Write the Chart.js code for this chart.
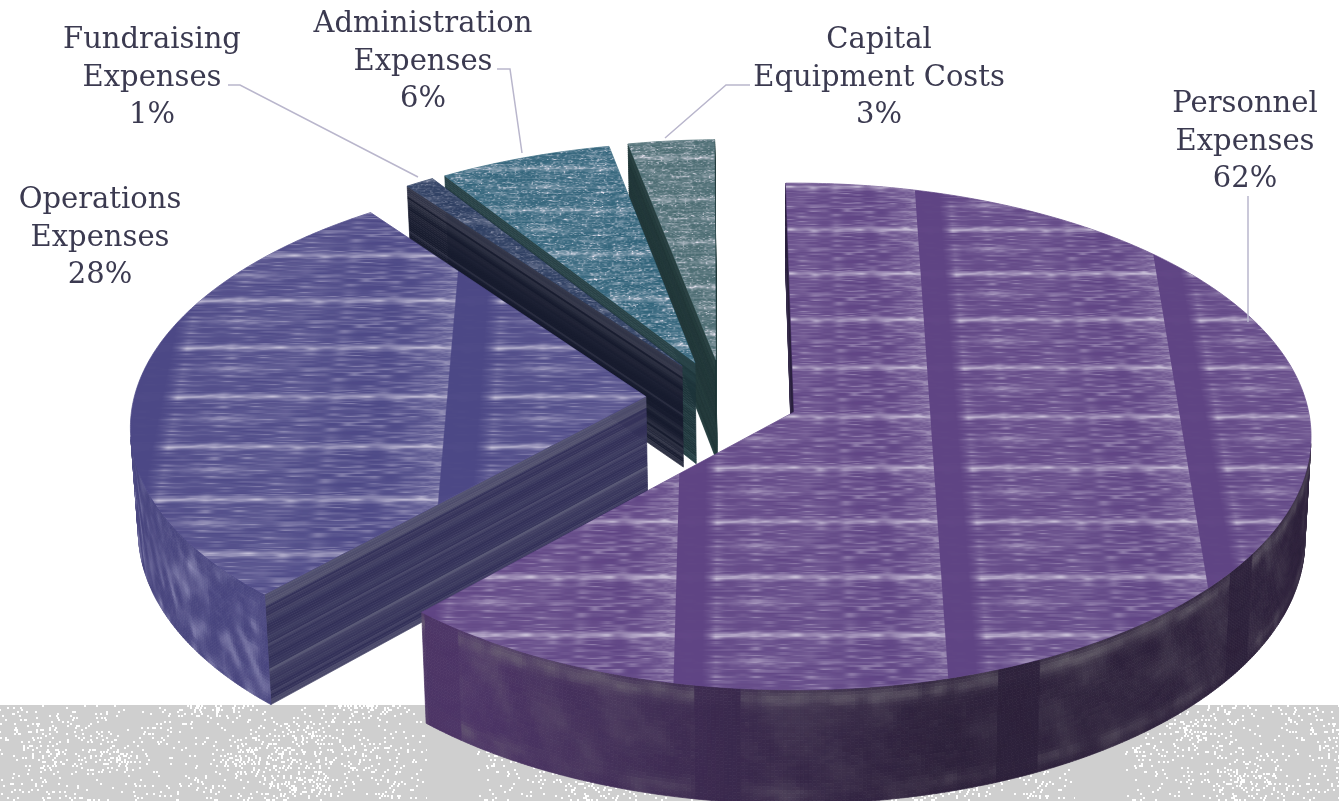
<!DOCTYPE html>
<html>
<head>
<meta charset="utf-8">
<title>Expense breakdown</title>
<style>
  html, body { margin: 0; padding: 0; background: #fff; overflow: hidden; }
  canvas { display: block; }
</style>
<script src="https://cdn.jsdelivr.net/npm/chart.js@4"></script>
</head>
<body>
<canvas id="pie" width="1339" height="801"></canvas>
<script>
// Expense shares, clockwise from twelve o'clock
const categories = ['Personnel\nExpenses', 'Operations\nExpenses', 'Fundraising\nExpenses', 'Administration\nExpenses', 'Capital\nEquipment Costs'];
const shares = [62, 28, 1, 6, 3];

// How far each wedge is pulled out of the pie, in radius units on the pie plane
const explodeU = [0, -0.2895, -0.2215, -0.196, -0.155];
const explodeV = [0, 0.062, 0.187, 0.200, 0.212];

// Slice finishes
const topColors = ['#5f4484', '#4c4886', '#2c3d60', '#2d6178', '#46686e'];
const seamed = [true, true, false, false, false];
const texOriginX = [753, 670, 794, 794, 794];
const texScale = [0.965, 0.753, 1, 1, 1];
const texPhaseU = [-0.344, 0.4356, 0.1, 0.2, 0.3];
const texPhaseV = [0, 0.02, 0.05, 0.09, 0.13];
const clothStrength = [1, 1, 0.55, 1, 1];
const faceDark = [[40, 30, 60], [50, 48, 88], [22, 26, 45], [29, 52, 58], [28, 50, 52]];
const faceLight = [[70, 60, 90], [104, 104, 128], [76, 78, 96], [50, 78, 82], [44, 70, 70]];
const wallFar = [[44, 32, 58], [72, 69, 126], [30, 34, 56], [30, 54, 60], [28, 50, 52]];
const wallNear = [[76, 52, 102], [72, 69, 126], [30, 34, 56], [30, 54, 60], [28, 50, 52]];
const wallLight = [[122, 118, 124], [170, 168, 204], [70, 72, 90], [52, 82, 86], [46, 74, 74]];

// Label placement: centre x and first baseline y
const labelX = [1245, 100, 152, 423, 879];
const labelY = [112, 208, 48, 32, 48];
const lineGap = 37.6;
const labelColor = '#3b3a50';

// Leader lines
const leaders = [
  [[1248, 196], [1248, 322]],
  null,
  [[228, 85], [240, 85], [418, 177]],
  [[497, 69], [510, 69], [522, 153]],
  [[750, 85], [726, 85], [665, 138]]
];

// Camera model for the tilted pie
const cam = { cx: 794, cy: 412, A: 251, B: 514.6, k: 0.0967, depth: 103, taper: 0.012 };

function project(U, V, z) {
  const s = 1 / (1 + cam.k * V);
  return [cam.cx + cam.B * U * s * (1 - cam.taper * z), cam.cy - cam.A * V * s + cam.depth * z * s];
}

// Small deterministic value noise for the surface finish
function hash(i, j, seed) {
  let h = Math.imul(i, 0x27d4eb2d) ^ Math.imul(j, 0x165667b1) ^ Math.imul(seed, 0x9e3779b1);
  h = Math.imul(h ^ (h >>> 15), 0x85ebca6b);
  h = Math.imul(h ^ (h >>> 13), 0xc2b2ae35);
  h = h ^ (h >>> 16);
  return (h >>> 0) / 4294967295;
}
function vnoise(x, y, seed) {
  const xi = Math.floor(x), yi = Math.floor(y);
  let fx = x - xi, fy = y - yi;
  fx = fx * fx * (3 - 2 * fx); fy = fy * fy * (3 - 2 * fy);
  const a = hash(xi, yi, seed), b = hash(xi + 1, yi, seed), c = hash(xi, yi + 1, seed), d = hash(xi + 1, yi + 1, seed);
  return a + (b - a) * fx + (c - a) * fy + (a - b - c + d) * fx * fy;
}

const TEX_U = 516, TEX_V = 250, TILE_W = 241, TILE_H = 50, SPAN = 3.6;

// Builds a wide strip of a repeating white-alpha cloth texture
function buildCloth(withSeam) {
  const tile = document.createElement('canvas');
  tile.width = TILE_W; tile.height = TILE_H;
  const t = tile.getContext('2d');
  const img = t.createImageData(TILE_W, TILE_H);
  for (let y = 0; y < TILE_H; y++) {
    for (let x = 0; x < TILE_W; x++) {
      const dy = Math.min(Math.abs(y - 4), TILE_H - Math.abs(y - 4));
      // faint broad mottling and fine horizontal grain
      let a = 0.07 * vnoise(x / 45, y / 14, 1);
      const grain = vnoise(x / 12, y / 1.5, 3);
      a += 0.3 * grain * grain * grain + 0.06 * grain;
      // the bright woven line, broken into dashes, with a knot
      const dash = 0.45 + 0.55 * vnoise(x / 9, y / 2, 5);
      a += (withSeam ? 0.55 : 0.45) * Math.exp(-(dy * dy) / 6) * dash;
      a += 0.14 * Math.exp(-(dy * dy) / 14) * Math.exp(-Math.pow((x - 70) / 4, 2));
      // fuzzy patch and thin line halfway between woven lines
      const my = y - 27;
      a += 0.3 * Math.exp(-(my * my) / 20) * Math.exp(-Math.pow((x - 72) / 28, 2)) * (0.4 + 0.6 * vnoise(x / 5, y / 1.5, 7));
      a += 0.1 * Math.exp(-(my * my) / 3) * vnoise(x / 14, y, 8);
      if (withSeam) {
        // lighter column before the seam, plain dark band after it
        a += 0.16 * Math.exp(-Math.pow((x - TILE_W) / 15, 2)) * (0.3 + vnoise(x / 3, y, 6));
        if (x < 24) a *= 0.04;
        else if (x < 36) a *= 0.04 + 0.96 * (x - 24) / 12;
      } else {
        a += 0.6 * Math.pow(vnoise(x / 1.8, y / 1.1, 9), 4);
        a *= 0.55 + 0.9 * vnoise(x / 3, y / 1.3, 10);
      }
      const p = (y * TILE_W + x) * 4;
      img.data[p] = 232; img.data[p + 1] = 228; img.data[p + 2] = 240;
      img.data[p + 3] = Math.min(255, a * 255);
    }
  }
  t.putImageData(img, 0, 0);
  // Repeat the tile, stack it three times and soften, keeping the middle row band
  const sharp = document.createElement('canvas');
  sharp.width = Math.ceil(SPAN * TEX_U * 1.05) + TILE_W + 4; sharp.height = TILE_H * 3;
  const st = sharp.getContext('2d');
  for (let y = 0; y < 3; y++) {
    for (let x = 0; x < sharp.width; x += TILE_W) st.drawImage(tile, x, y * TILE_H);
  }
  const strip = document.createElement('canvas');
  strip.width = sharp.width; strip.height = TILE_H;
  const out = strip.getContext('2d');
  out.filter = 'blur(0.6px)';
  out.drawImage(sharp, 0, -TILE_H);
  return strip;
}
const clothSeamed = buildCloth(true);
const clothPlain = buildCloth(false);

function mod(a, b) { return ((a % b) + b) % b; }
function lerp3(c0, c1, t) {
  t = Math.max(0, Math.min(1, t));
  return [c0[0] + (c1[0] - c0[0]) * t, c0[1] + (c1[1] - c0[1]) * t, c0[2] + (c1[2] - c0[2]) * t];
}
function css(c) { return 'rgb(' + Math.round(c[0]) + ',' + Math.round(c[1]) + ',' + Math.round(c[2]) + ')'; }
function shoelace(q) {
  let s = 0;
  for (let i = 0; i < q.length; i++) {
    const a = q[i], b = q[(i + 1) % q.length];
    s += a[0] * b[1] - b[0] * a[1];
  }
  return s;
}
function fillPoly(ctx, q, color) {
  ctx.beginPath();
  ctx.moveTo(q[0][0], q[0][1]);
  for (let i = 1; i < q.length; i++) ctx.lineTo(q[i][0], q[i][1]);
  ctx.closePath();
  ctx.fillStyle = color; ctx.strokeStyle = color; ctx.lineWidth = 0.7;
  ctx.fill(); ctx.stroke();
}

// Flat cut face: stripes run along the radius
function paintFace(ctx, i, a, ou, ov) {
  const rimU = ou + Math.cos(a), rimV = ov - Math.sin(a);
  const strips = 44;
  for (let n = 0; n < strips; n++) {
    const z0 = n / strips, z1 = (n + 1) / strips, zm = (z0 + z1) / 2;
    let light = Math.pow(vnoise(n * 0.8, 0.5, 11 + i), 3) * 0.8;
    if (zm < 0.12) light = Math.max(light, 0.4 + 0.3 * vnoise(n * 1.3, 1.5, 14));
    if (zm > 0.95) light = Math.max(light, 0.45);
    fillPoly(ctx, [project(ou, ov, z0), project(rimU, rimV, z0), project(rimU, rimV, z1), project(ou, ov, z1)],
      css(lerp3(faceDark[i], faceLight[i], light)));
  }
}

// Curved outer wall: mottled finish, split into small cells
function paintWall(ctx, i, a0, a1, ou, ov) {
  const step = Math.PI / 420, rows = 34;
  const P = (a, z) => project(ou + Math.cos(a), ov - Math.sin(a), z);
  for (let a = a0; a < a1; a += step) {
    const b = Math.min(a + step * 1.02, a1);
    if (shoelace([P(a, 0), P(b, 0), P(b, 1), P(a, 1)]) >= 0) continue;
    const deg = (a + Math.PI / 2) * 180 / Math.PI;
    const base = lerp3(wallFar[i], wallNear[i], (deg - 165) / 50);
    for (let r = 0; r < rows; r++) {
      const z0 = r / rows, z1 = (r + 1) / rows, zm = (z0 + z1) / 2;
      let t;
      if (i === 0) {
        const ph = mod(deg - 127, 31.5) / 31.5;
        t = 0.2 * Math.pow(vnoise(deg / 2.2 + zm * 2, zm * 4, 21), 2) + 0.08 * Math.pow(vnoise(deg * 1.3, zm * 30, 22), 2);
        const patch = vnoise(deg / 3.5, zm * 2, 25);
        const stripe = Math.exp(-Math.pow((zm - 0.08) / 0.07, 2)) + 0.8 * patch * Math.exp(-Math.pow((zm - 0.9) / 0.06, 2));
        t += stripe * (0.12 + 0.42 * vnoise(deg / 1.3, zm * 8, 23));
        // plain band after each tile seam
        if (ph > 0.85) t *= 0.1;
      } else {
        t = 0.55 * Math.pow(vnoise(deg * 0.55 + zm * 5, zm * 5 - deg * 0.28, 31), 3) + 0.12 * Math.pow(vnoise(deg * 1.6, zm * 22, 32), 3);
      }
      fillPoly(ctx, [P(a, z0), P(b, z0), P(b, z1), P(a, z1)], css(lerp3(base, wallLight[i], t)));
    }
  }
}

// Upper surface: fills the wedge, then lays the cloth line by line in perspective
function paintTop(ctx, i, a0, a1, ou, ov) {
  const poly = [project(ou, ov, 0)];
  const n = Math.max(6, Math.ceil((a1 - a0) / (Math.PI / 360)));
  for (let j = 0; j <= n; j++) {
    const a = a0 + (a1 - a0) * j / n;
    poly.push(project(ou + Math.cos(a), ov - Math.sin(a), 0));
  }
  ctx.save();
  fillPoly(ctx, poly, topColors[i]);
  ctx.beginPath();
  poly.forEach((p, j) => j ? ctx.lineTo(p[0], p[1]) : ctx.moveTo(p[0], p[1]));
  ctx.closePath();
  ctx.clip();
  const ys = poly.map(p => p[1]);
  const yMin = Math.floor(Math.min(...ys)), yMax = Math.ceil(Math.max(...ys));
  const cloth = seamed[i] ? clothSeamed : clothPlain;
  const left = -SPAN / 2;
  const perUnit = TEX_U * texScale[i];
  ctx.globalAlpha = clothStrength[i];
  for (let y = yMin; y <= yMax; y++) {
    const Y = (cam.cy - y - 0.5) / cam.A;
    const V = Y / (1 - cam.k * Y);
    const s = 1 / (1 + cam.k * V);
    const row = Math.floor(mod((-V + ov + texPhaseV[i]) * TEX_V, TILE_H));
    const sx = mod((left + texPhaseU[i]) * perUnit, TILE_W);
    ctx.drawImage(cloth, sx, row, SPAN * perUnit, 1, texOriginX[i] + cam.B * left * s, y, cam.B * SPAN * s, 1);
  }
  ctx.restore();
}

// Speckled grey floor band that repeats across the page
function paintFloor(ctx) {
  const top = 705, w = 648, h = 96, shift = 427 - 648;
  const tile = document.createElement('canvas');
  tile.width = w; tile.height = h;
  const t = tile.getContext('2d');
  t.fillStyle = '#cfcfcf';
  t.fillRect(0, 0, w, h);
  t.fillStyle = '#ffffff';
  for (let y = 0; y < h; y += 2) {
    for (let x = 0; x < w; x += 2) {
      if (x < 50) continue;
      const d = 0.04 + 0.3 * Math.pow(vnoise(x / 38, y / 26, 41), 2);
      if (hash(x, y, 43) < d) t.fillRect(x + (hash(x, y, 44) > 0.5 ? 1 : 0), y, 2, 2);
    }
  }
  for (let x = shift; x < 1339; x += w) ctx.drawImage(tile, x, top);
}

const pie3d = {
  id: 'pie3d',
  beforeDatasetsDraw(chart) {
    const ctx = chart.ctx;
    const arcs = chart.getDatasetMeta(0).data;
    ctx.save();
    paintFloor(ctx);
    // Far wedges first so the nearer ones overlap them
    [4, 3, 2, 1, 0].forEach(i => {
      const a0 = arcs[i].startAngle, a1 = arcs[i].endAngle;
      const ou = explodeU[i], ov = explodeV[i];
      const P = (a, z) => project(ou + Math.cos(a), ov - Math.sin(a), z);
      const apex0 = project(ou, ov, 0), apex1 = project(ou, ov, 1);
      if (shoelace([apex0, P(a0, 0), P(a0, 1), apex1]) < 0) paintFace(ctx, i, a0, ou, ov);
      if (shoelace([P(a1, 0), apex0, apex1, P(a1, 1)]) < 0) paintFace(ctx, i, a1, ou, ov);
      paintWall(ctx, i, a0, a1, ou, ov);
      paintTop(ctx, i, a0, a1, ou, ov);
    });
    ctx.restore();
    return false;
  },
  afterDraw(chart) {
    const ctx = chart.ctx;
    ctx.save();
    ctx.strokeStyle = '#b9b6cc';
    ctx.lineWidth = 1.5;
    leaders.forEach(pts => {
      if (!pts) return;
      ctx.beginPath();
      pts.forEach((p, j) => j ? ctx.lineTo(p[0], p[1]) : ctx.moveTo(p[0], p[1]));
      ctx.stroke();
    });
    ctx.fillStyle = labelColor;
    ctx.font = '29px "DejaVu Serif"';
    ctx.textAlign = 'center';
    ctx.textBaseline = 'alphabetic';
    categories.forEach((name, i) => {
      const lines = name.split('\n').concat(shares[i] + '%');
      lines.forEach((line, j) => ctx.fillText(line, labelX[i], labelY[i] + j * lineGap));
    });
    ctx.restore();
  }
};

new Chart(document.getElementById('pie'), {
  type: 'pie',
  data: { labels: categories, datasets: [{ data: shares, borderWidth: 0, backgroundColor: topColors }] },
  options: {
    responsive: false,
    animation: false,
    rotation: -1,
    plugins: { legend: { display: false }, tooltip: { enabled: false } }
  },
  plugins: [pie3d]
});
</script>
</body>
</html>
